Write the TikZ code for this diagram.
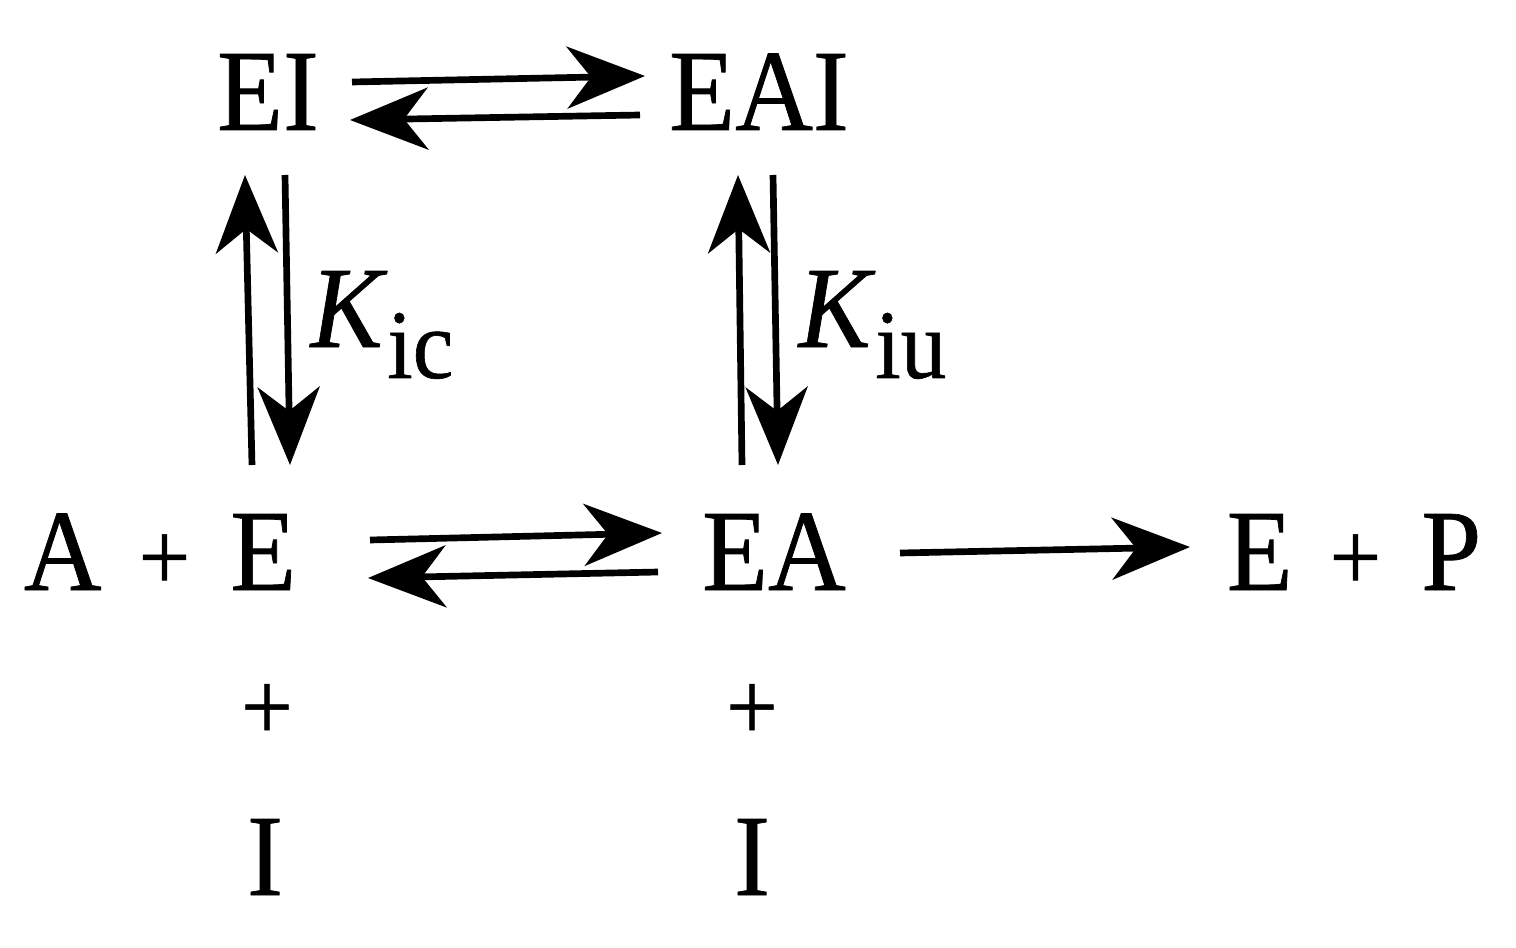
\documentclass[tikz,border=0pt]{standalone}
\usepackage{fontspec}
\setmainfont[FakeStretch=0.93, FakeBold=0.6]{Liberation Serif}
\usetikzlibrary{arrows.meta}
\newcommand{\rplus}{\hspace{0.37cm}{\fontsize{28}{32}\selectfont+}\hspace{0.40cm}}
\begin{document}
\begin{tikzpicture}[
  lbl/.style={inner sep=0pt, anchor=base, font=\fontsize{33}{40}\selectfont},
  plusl/.style={inner sep=0pt, font=\fontsize{28}{32}\selectfont},
  rxn/.style={line width=1.9pt, -{Stealth[length=0.78cm, width=0.62cm, inset=0.24cm]}}
]
\useasboundingbox (0,0) rectangle (15.16,-9.47);
% species
\node[lbl] (EI) at (2.68,-1.30) {EI};
\node[lbl] (EAI) at (7.59,-1.30) {EAI};
\node[lbl] (AE) at (1.60,-5.90) {A\rplus E};
\node[lbl] (EA) at (7.74,-5.90) {EA};
\node[lbl] (EP) at (13.54,-5.90) {E\rplus P};
\node[plusl] (p1) at (2.67,-7.12) {+};
\node[plusl] (p2) at (7.52,-7.12) {+};
\node[lbl] (I1) at (2.65,-8.95) {I};
\node[lbl] (I2) at (7.52,-8.95) {I};
% constants
\node[lbl, anchor=base west] (Kic) at (3.10,-3.47) {\textit{K}\raisebox{-0.31cm}{\fontsize{28}{30}\selectfont ic}};
\node[lbl, anchor=base west] (Kiu) at (7.98,-3.47) {\textit{K}\raisebox{-0.31cm}{\fontsize{28}{30}\selectfont iu}};
% arrow end points
\coordinate (a1s) at (3.52,-0.82); \coordinate (a1e) at (6.45,-0.76);
\coordinate (a2s) at (6.40,-1.15); \coordinate (a2e) at (3.50,-1.20);
\coordinate (b1s) at (2.52,-4.65); \coordinate (b1e) at (2.45,-1.75);
\coordinate (b2s) at (2.85,-1.75); \coordinate (b2e) at (2.90,-4.65);
\coordinate (c1s) at (7.42,-4.65); \coordinate (c1e) at (7.38,-1.75);
\coordinate (c2s) at (7.73,-1.75); \coordinate (c2e) at (7.78,-4.65);
\coordinate (d1s) at (3.70,-5.40); \coordinate (d1e) at (6.62,-5.33);
\coordinate (d2s) at (6.58,-5.72); \coordinate (d2e) at (3.68,-5.78);
\coordinate (e1s) at (9.00,-5.53); \coordinate (e1e) at (11.90,-5.47);
% arrows
\draw[rxn] (a1s) -- (a1e);
\draw[rxn] (a2s) -- (a2e);
\draw[rxn] (b1s) -- (b1e);
\draw[rxn] (b2s) -- (b2e);
\draw[rxn] (c1s) -- (c1e);
\draw[rxn] (c2s) -- (c2e);
\draw[rxn] (d1s) -- (d1e);
\draw[rxn] (d2s) -- (d2e);
\draw[rxn] (e1s) -- (e1e);
\end{tikzpicture}
\end{document}
